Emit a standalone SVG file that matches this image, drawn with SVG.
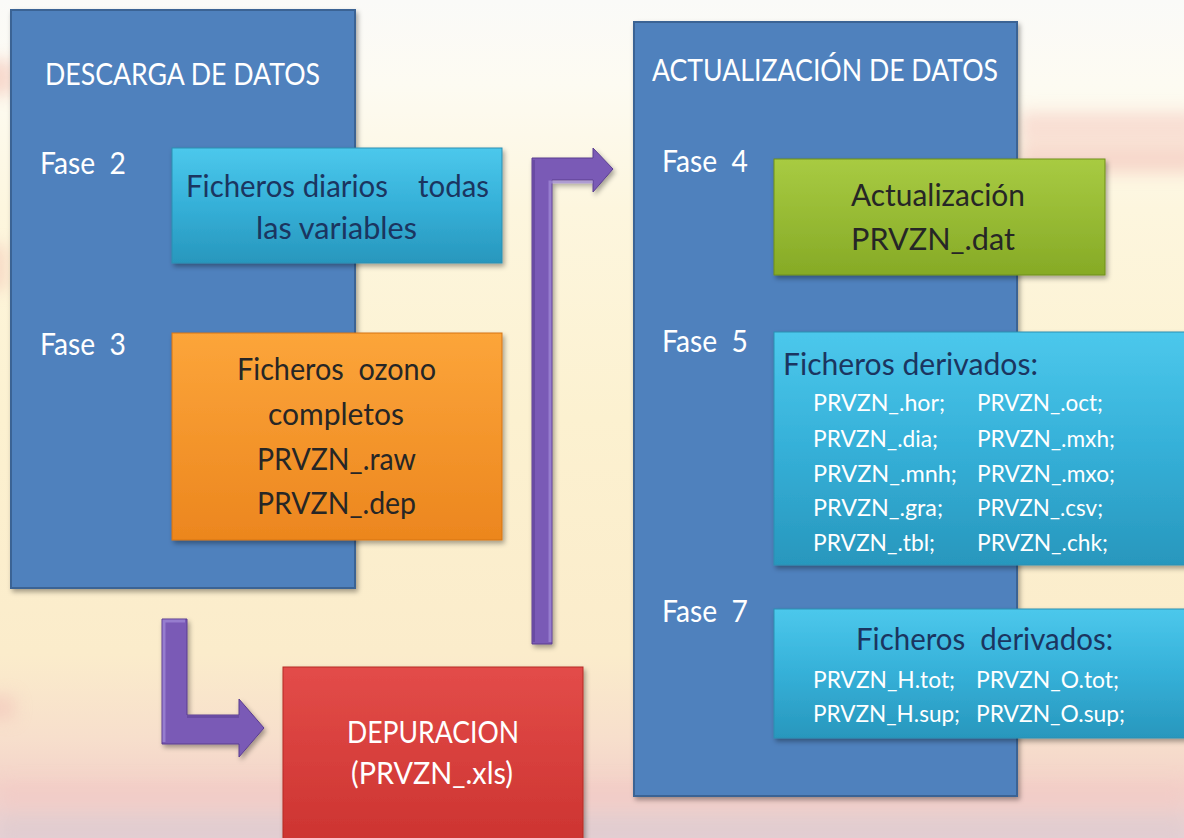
<svg xmlns="http://www.w3.org/2000/svg" width="1184" height="838" viewBox="0 0 1184 838">
<style>
text{font-family:Lato,"Open Sans","Liberation Sans",sans-serif;white-space:pre}
.w{fill:#ffffff}
.n{fill:#1b3560}
.k{fill:#262626}
.big{font-size:31px}
.row{font-size:23px;fill:#ffffff}
.panel{fill:#4f81bd;stroke:#3a6394;stroke-width:2}
.arrow{fill:#7a5ab6;stroke:#5a3d8f;stroke-width:1}
</style>
<defs>
<linearGradient id="bgG" x1="0" y1="0" x2="0" y2="1">
<stop offset="0" stop-color="#fafaf8"/>
<stop offset="0.1" stop-color="#fdfbf2"/>
<stop offset="0.25" stop-color="#fdf6de"/>
<stop offset="0.5" stop-color="#fcf1d0"/>
<stop offset="0.78" stop-color="#fbeccb"/>
<stop offset="0.88" stop-color="#f7dfcc"/>
<stop offset="0.94" stop-color="#f3d2c9"/>
<stop offset="1" stop-color="#e6d2d6"/>
</linearGradient>
<linearGradient id="cyanG" x1="0" y1="0" x2="0" y2="1">
<stop offset="0" stop-color="#4cc8ec"/>
<stop offset="0.5" stop-color="#35b0d8"/>
<stop offset="1" stop-color="#2897bd"/>
</linearGradient>
<linearGradient id="orG" x1="0" y1="0" x2="0" y2="1">
<stop offset="0" stop-color="#fca53a"/>
<stop offset="1" stop-color="#ec861e"/>
</linearGradient>
<linearGradient id="grG" x1="0" y1="0" x2="0" y2="1">
<stop offset="0" stop-color="#a8cb42"/>
<stop offset="1" stop-color="#86aa26"/>
</linearGradient>
<linearGradient id="rdG" x1="0" y1="0" x2="0" y2="1">
<stop offset="0" stop-color="#e34c49"/>
<stop offset="1" stop-color="#cc3330"/>
</linearGradient>
<filter id="sh" x="-10%" y="-10%" width="130%" height="130%">
<feDropShadow dx="2" dy="3" stdDeviation="2.5" flood-color="#000" flood-opacity="0.35"/>
</filter>
<filter id="blur" x="-20%" y="-200%" width="140%" height="500%">
<feGaussianBlur stdDeviation="8"/>
</filter>
</defs>

<g id="background">
<rect x="0" y="0" width="1184" height="838" fill="url(#bgG)"/>
<g filter="url(#blur)" opacity="0.5">
<rect x="-20" y="60" width="35" height="35" fill="#f2b8a8"/>
<rect x="1020" y="112" width="180" height="30" fill="#f4c4bc"/>
<rect x="1020" y="145" width="180" height="28" fill="#f0b8b0"/>
<rect x="-20" y="245" width="28" height="45" fill="#f3c2b4"/>
<rect x="-20" y="695" width="35" height="25" fill="#f1c0b8"/>
<rect x="0" y="782" width="1184" height="28" fill="#f2c8c4"/>
<rect x="0" y="815" width="1184" height="30" fill="#dcc8cc"/>
</g>
</g>

<g id="panel-descarga">
<rect class="panel" x="11" y="10" width="344" height="578" filter="url(#sh)"/>
<text class="w big" x="45" y="85" textLength="275" lengthAdjust="spacingAndGlyphs">DESCARGA DE DATOS</text>
<text class="w big" x="40" y="174" textLength="86" lengthAdjust="spacingAndGlyphs">Fase  2</text>
<text class="w big" x="40" y="355" textLength="86" lengthAdjust="spacingAndGlyphs">Fase  3</text>
</g>

<g id="node-ficheros-diarios">
<rect x="172" y="148" width="330" height="115" fill="url(#cyanG)" stroke="#2a8fb2" stroke-width="1" filter="url(#sh)"/>
<text class="n big" x="186" y="197" textLength="303" lengthAdjust="spacingAndGlyphs">Ficheros diarios    todas</text>
<text class="n big" x="256" y="239" textLength="161" lengthAdjust="spacingAndGlyphs">las variables</text>
</g>

<g id="node-ficheros-ozono">
<rect x="172" y="333" width="330" height="207" fill="url(#orG)" stroke="#d67412" stroke-width="1" filter="url(#sh)"/>
<text class="k big" x="237" y="380" textLength="199" lengthAdjust="spacingAndGlyphs">Ficheros  ozono</text>
<text class="k big" x="268" y="425" textLength="136" lengthAdjust="spacingAndGlyphs">completos</text>
<text class="k big" x="257" y="470" textLength="159" lengthAdjust="spacingAndGlyphs">PRVZN_.raw</text>
<text class="k big" x="257" y="514" textLength="159" lengthAdjust="spacingAndGlyphs">PRVZN_.dep</text>
</g>

<g id="node-depuracion">
<rect x="283" y="667" width="300" height="180" fill="url(#rdG)" stroke="#b52a27" stroke-width="1" filter="url(#sh)"/>
<text class="w big" x="347" y="743" textLength="172" lengthAdjust="spacingAndGlyphs">DEPURACION</text>
<text class="w big" x="351" y="784" textLength="162" lengthAdjust="spacingAndGlyphs">(PRVZN_.xls)</text>
</g>

<g id="panel-actualizacion">
<rect class="panel" x="634" y="22" width="383" height="774" filter="url(#sh)"/>
<text class="w big" x="652" y="81" textLength="346" lengthAdjust="spacingAndGlyphs">ACTUALIZACIÓN DE DATOS</text>
<text class="w big" x="662" y="172" textLength="86" lengthAdjust="spacingAndGlyphs">Fase  4</text>
<text class="w big" x="662" y="352" textLength="86" lengthAdjust="spacingAndGlyphs">Fase  5</text>
<text class="w big" x="662" y="622" textLength="86" lengthAdjust="spacingAndGlyphs">Fase  7</text>
</g>

<g id="node-actualizacion-dat">
<rect x="774" y="159" width="331" height="116" fill="url(#grG)" stroke="#6f8f1c" stroke-width="1" filter="url(#sh)"/>
<text class="k big" x="851" y="206" textLength="174" lengthAdjust="spacingAndGlyphs">Actualización</text>
<text class="k big" x="851" y="250" textLength="164" lengthAdjust="spacingAndGlyphs">PRVZN_.dat</text>
</g>

<g id="node-derivados-fase5">
<rect x="774" y="332" width="420" height="233" fill="url(#cyanG)" stroke="#2a8fb2" stroke-width="1" filter="url(#sh)"/>
<text class="n big" x="783" y="375" textLength="255" lengthAdjust="spacingAndGlyphs">Ficheros derivados:</text>
<text class="row" x="813" y="411" textLength="132" lengthAdjust="spacingAndGlyphs">PRVZN_.hor;</text>
<text class="row" x="977" y="411" textLength="126" lengthAdjust="spacingAndGlyphs">PRVZN_.oct;</text>
<text class="row" x="813" y="447" textLength="125" lengthAdjust="spacingAndGlyphs">PRVZN_.dia;</text>
<text class="row" x="977" y="447" textLength="138" lengthAdjust="spacingAndGlyphs">PRVZN_.mxh;</text>
<text class="row" x="813" y="482" textLength="144" lengthAdjust="spacingAndGlyphs">PRVZN_.mnh;</text>
<text class="row" x="977" y="482" textLength="138" lengthAdjust="spacingAndGlyphs">PRVZN_.mxo;</text>
<text class="row" x="813" y="516" textLength="130" lengthAdjust="spacingAndGlyphs">PRVZN_.gra;</text>
<text class="row" x="977" y="516" textLength="126" lengthAdjust="spacingAndGlyphs">PRVZN_.csv;</text>
<text class="row" x="813" y="551" textLength="122" lengthAdjust="spacingAndGlyphs">PRVZN_.tbl;</text>
<text class="row" x="977" y="551" textLength="131" lengthAdjust="spacingAndGlyphs">PRVZN_.chk;</text>
</g>

<g id="node-derivados-fase7">
<rect x="774" y="609" width="420" height="129" fill="url(#cyanG)" stroke="#2a8fb2" stroke-width="1" filter="url(#sh)"/>
<text class="n big" x="856" y="650" textLength="257" lengthAdjust="spacingAndGlyphs">Ficheros  derivados:</text>
<text class="row" x="813" y="688" textLength="142" lengthAdjust="spacingAndGlyphs">PRVZN_H.tot;</text>
<text class="row" x="976" y="688" textLength="143" lengthAdjust="spacingAndGlyphs">PRVZN_O.tot;</text>
<text class="row" x="813" y="722" textLength="147" lengthAdjust="spacingAndGlyphs">PRVZN_H.sup;</text>
<text class="row" x="976" y="722" textLength="149" lengthAdjust="spacingAndGlyphs">PRVZN_O.sup;</text>
</g>

<g id="connectors">
<g id="arrow-descarga-depuracion" filter="url(#sh)">
<polygon class="arrow" points="162,619 187,619 187,715 239,715 239,699 264,728 239,757 239,744 162,744"/>
<polyline points="164,742 164,621 185,621" fill="none" stroke="#a28bd8" stroke-width="3" opacity="0.7"/>
<polyline points="187,717 239,717" fill="none" stroke="#5e4196" stroke-width="2" opacity="0.6"/>
</g>
<g id="arrow-depuracion-actualizacion" filter="url(#sh)">
<polygon class="arrow" points="532,644 552,644 552,180 593,180 593,192 613,169 593,148 593,158 532,158"/>
<polyline points="550,642 550,182 593,182" fill="none" stroke="#a28bd8" stroke-width="3" opacity="0.7"/>
<polyline points="534,642 534,160" fill="none" stroke="#5e4196" stroke-width="2" opacity="0.6"/>
</g>
</g>
</svg>
